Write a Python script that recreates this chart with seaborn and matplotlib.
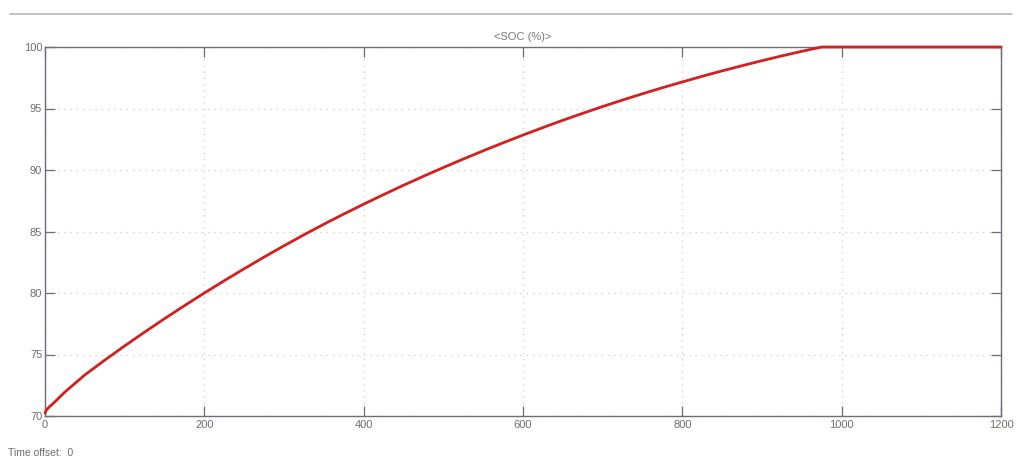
import matplotlib
matplotlib.use("Agg")
import matplotlib.pyplot as plt
import seaborn as sns
import pandas as pd
from matplotlib.lines import Line2D

# Simulated battery state of charge over time (s, %)
time_s = [0, 2, 5, 10, 25, 50, 75, 100, 125, 150, 175, 200, 225, 250, 275,
          300, 325, 350, 375, 400, 425, 450, 475, 500, 525, 550, 575, 600,
          625, 650, 675, 700, 725, 750, 775, 800, 825, 850, 875, 900, 925,
          950, 975, 1000, 1100, 1200]
soc_pct = [70.25, 70.5, 70.72, 71.0, 71.95, 73.34, 74.54, 75.7, 76.82, 77.91,
           78.97, 80.0, 81.0, 81.97, 82.92, 83.84, 84.73, 85.59, 86.42, 87.22,
           88.0, 88.76, 89.49, 90.2, 90.89, 91.56, 92.21, 92.84, 93.45, 94.04,
           94.61, 95.16, 95.69, 96.2, 96.69, 97.16, 97.62, 98.06, 98.48, 98.89,
           99.28, 99.65, 100.0, 100.0, 100.0, 100.0]
x_ticks = [0, 200, 400, 600, 800, 1000, 1200]
y_ticks = [70, 75, 80, 85, 90, 95, 100]
title_text = "<SOC (%)>"
offset_text = "Time offset:  0"

df = pd.DataFrame({"t": time_s, "soc": soc_pct})

sns.set_style("white")
plt.rcParams["font.family"] = ["Liberation Sans", "DejaVu Sans"]

fig = plt.figure(figsize=(10.18, 4.62), dpi=100)
ax = fig.add_axes([45 / 1018, 46 / 462, 956 / 1018, 369 / 462])

sns.lineplot(data=df, x="t", y="soc", ax=ax, color="#d41f1f", linewidth=2.0,
             clip_on=False, zorder=5)

ax.set_xlim(0, 1200)
ax.set_ylim(70, 100)
ax.set_xticks(x_ticks)
ax.set_yticks(y_ticks)
ax.set_xlabel("")
ax.set_ylabel("")

ax.grid(True, linestyle=(0, (1, 4)), color="#cdcdcd", linewidth=0.9)
for sp in ax.spines.values():
    sp.set_color("#6a6e78")
    sp.set_linewidth(1.0)

ax.tick_params(axis="both", which="both", direction="in", length=7, width=0.9,
               color="#6a6e78", labelsize=8, labelcolor="#6e6e6e",
               top=True, right=True, bottom=True, left=True, pad=3)
ax.tick_params(axis="y", pad=2)

ax.set_title(title_text, fontsize=8, color="#777777", pad=5)

# Header rule and time offset caption
fig.add_artist(Line2D([10 / 1018, 1012 / 1018], [1 - 14 / 462, 1 - 14 / 462],
                      color="#b8b8b8", linewidth=1.2))
fig.text(8 / 1018, 1 - 456 / 462, offset_text, fontsize=7.5, color="#6e6e6e",
         ha="left", va="baseline")

fig.savefig("out.png", dpi=100, facecolor="white")
